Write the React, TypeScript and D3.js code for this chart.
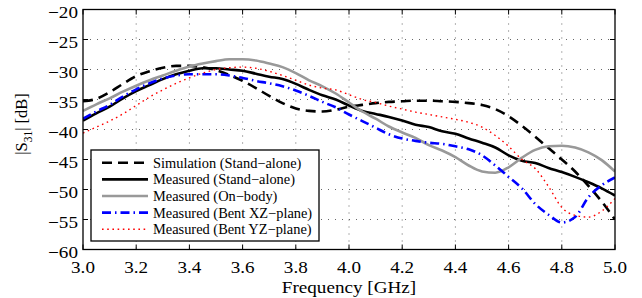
import React from 'react';
import * as d3 from 'd3';

// frequency grid (GHz), read every 0.05 GHz
const freqs = [
  3.0, 3.05, 3.1, 3.15, 3.2, 3.25, 3.3, 3.35, 3.4, 3.45, 3.5, 3.55, 3.6, 3.65, 3.7, 3.75, 3.8, 3.85, 3.9, 3.95,
  4.0, 4.05, 4.1, 4.15, 4.2, 4.25, 4.3, 4.35, 4.4, 4.45, 4.5, 4.55, 4.6, 4.65, 4.7, 4.75, 4.8, 4.85, 4.9, 4.95, 5.0,
];

const simStandAlone = [
  -35.3, -34.9, -33.8, -32.4, -31.1, -30.3, -29.7, -29.4, -29.4, -29.6, -30.1, -30.9, -31.9, -33.1, -34.4, -35.6, -36.5, -36.9, -37.0, -36.7,
  -36.2, -35.9, -35.6, -35.4, -35.3, -35.2, -35.2, -35.3, -35.4, -35.6, -35.9, -36.6, -37.8, -39.4, -41.2, -43.1, -45.0, -47.0, -49.4, -52.0, -55.0,
];

const measStandAlone = [
  -38.5, -37.3, -36.2, -34.8, -33.6, -32.6, -31.6, -30.8, -30.2, -29.8, -29.8, -30.0, -30.2, -30.7, -31.2, -31.6, -32.4, -33.4, -34.3, -35.0,
  -36.0, -36.9, -37.4, -37.9, -38.5, -39.2, -39.6, -40.3, -40.7, -41.5, -42.2, -43.0, -44.3, -45.2, -45.6, -46.4, -47.1, -47.9, -48.8, -49.8, -51.0,
];

const measOnBody = [
  -36.9, -35.8, -34.8, -33.7, -32.7, -31.8, -31.0, -30.2, -29.5, -29.0, -28.6, -28.3, -28.3, -28.5, -29.0, -29.6, -30.6, -31.8, -32.8, -34.0,
  -35.5, -37.0, -38.2, -39.5, -40.5, -41.4, -42.6, -43.5, -44.6, -46.0, -47.0, -47.2, -46.3, -44.7, -43.4, -42.8, -42.7, -43.0, -43.8, -45.1, -47.0,
];

const measBentXZ = [
  -38.2, -37.0, -35.9, -34.5, -33.3, -32.3, -31.5, -31.0, -30.8, -30.8, -30.8, -31.0, -31.4, -31.9, -32.3, -32.8, -33.5, -34.4, -35.4, -36.3,
  -37.5, -38.6, -39.7, -40.8, -41.5, -41.9, -42.2, -42.4, -42.8, -43.3, -44.3, -46.0, -47.9, -49.8, -52.4, -54.2, -55.5, -54.6, -51.3, -49.3, -48.0,
];

const measBentYZ = [
  -40.6, -39.6, -38.6, -37.4, -36.0, -34.6, -33.4, -32.3, -31.4, -30.6, -30.0, -29.7, -29.6, -29.8, -30.3, -31.0, -31.8, -32.6, -33.1, -33.4,
  -34.2, -35.0, -35.5, -36.1, -36.6, -37.1, -37.5, -37.9, -38.3, -38.8, -39.6, -41.0, -42.8, -45.0, -46.5, -49.5, -53.0, -54.3, -54.6, -53.6, -51.5,
];

const seriesNames = [
  'Simulation (Stand\u2212alone)',
  'Measured (Stand\u2212alone)',
  'Measured (On\u2212body)',
  'Measured (Bent XZ\u2212plane)',
  'Measured (Bent YZ\u2212plane)',
];

const xTicks = [3.0, 3.2, 3.4, 3.6, 3.8, 4.0, 4.2, 4.4, 4.6, 4.8, 5.0];
const yTicks = [-20, -25, -30, -35, -40, -45, -50, -55, -60];

const W = 642;
const H = 298;
const margin = { top: 9.5, right: 27, bottom: 48.5, left: 83 };
const STRETCH = 1.16;
const serif = { fontFamily: "'Liberation Serif'" };

const styles = [
  { stroke: '#000000', width: 2.6, dash: '10,6' },
  { stroke: '#000000', width: 2.6, dash: '' },
  { stroke: '#999999', width: 2.6, dash: '' },
  { stroke: '#0000ff', width: 2.6, dash: '9,4,1.5,4' },
  { stroke: '#ff0000', width: 1.4, dash: '1.6,3.6' },
];

export default function App() {
  const x = d3.scaleLinear().domain([3, 5]).range([margin.left, W - margin.right]);
  const y = d3.scaleLinear().domain([-60, -20]).range([H - margin.bottom, margin.top]);
  const fmtX = d3.format('.1f');
  const fmtY = d3.format('d');

  const allSeries = [simStandAlone, measStandAlone, measOnBody, measBentXZ, measBentYZ];
  const line = d3
    .line<number>()
    .x((_, i) => x(freqs[i]))
    .y((d) => y(d))
    .curve(d3.curveMonotoneX);

  const [x0, x1] = x.range();
  const [y0, y1] = y.range();

  // legend box
  const lg = { left: 91, top: 150, width: 228, height: 91, row: 16.65 };

  return (
    <svg width={W} height={H} style={{ position: 'absolute', left: 0, top: 0 }}>
      <rect x={0} y={0} width={W} height={H} fill="#fff" />
      <defs>
        <clipPath id="plot-clip">
          <rect x={x0} y={y1} width={x1 - x0} height={y0 - y1} />
        </clipPath>
      </defs>

      {/* grid */}
      {xTicks.slice(1, -1).map((t) => (
        <line key={'gx' + t} x1={x(t)} x2={x(t)} y1={y1} y2={y0} stroke="#555" strokeWidth={0.9} strokeDasharray="1,6" />
      ))}
      {yTicks.slice(1, -1).map((t) => (
        <line key={'gy' + t} x1={x0} x2={x1} y1={y(t)} y2={y(t)} stroke="#555" strokeWidth={0.9} strokeDasharray="1,6" />
      ))}

      {/* series */}
      {allSeries.map((s, i) => (
        <path
          key={'s' + i}
          d={line(s) || ''}
          fill="none"
          clipPath="url(#plot-clip)"
          strokeLinejoin="round"
          stroke={styles[i].stroke}
          strokeWidth={styles[i].width}
          strokeDasharray={styles[i].dash || undefined}
        />
      ))}

      {/* ticks inward on all sides */}
      {xTicks.map((t) => (
        <path key={'tx' + t} d={`M${x(t)},${y0}v-5M${x(t)},${y1}v5`} stroke="#000" strokeWidth={1} />
      ))}
      {yTicks.map((t) => (
        <path key={'ty' + t} d={`M${x0},${y(t)}h5M${x1},${y(t)}h-5`} stroke="#000" strokeWidth={1} />
      ))}
      <rect x={x0} y={y1} width={x1 - x0} height={y0 - y1} fill="none" stroke="#000" strokeWidth={1.3} />

      {/* tick labels */}
      {xTicks.map((t) => (
        <text
          key={'lx' + t}
          transform={`translate(${x(t)},${y0 + 23}) scale(${STRETCH},1)`}
          textAnchor="middle"
          fontSize={16.5}
          style={serif}
        >
          {fmtX(t)}
        </text>
      ))}
      {yTicks.map((t) => (
        <text
          key={'ly' + t}
          transform={`translate(${x0 - 5},${y(t) + 8.5}) scale(${STRETCH},1)`}
          textAnchor="end"
          fontSize={16.5}
          style={serif}
        >
          {fmtY(t)}
        </text>
      ))}

      {/* axis titles */}
      <text
        transform={`translate(${(x0 + x1) / 2},${H - 5.5}) scale(${STRETCH},1)`}
        textAnchor="middle"
        fontSize={16.5}
        style={serif}
      >
        Frequency [GHz]
      </text>
      <text transform="translate(27,124) rotate(-90)" textAnchor="middle" fontSize={16.5} style={serif}>
        |S<tspan fontSize={11.5} dy={5}>31</tspan>
        <tspan dy={-5}>| [dB]</tspan>
      </text>

      {/* legend */}
      <rect x={lg.left} y={lg.top} width={lg.width} height={lg.height} fill="#fff" stroke="#000" strokeWidth={1.3} />
      {seriesNames.map((name, i) => (
        <line
          key={'ll' + i}
          x1={lg.left + 11}
          x2={lg.left + 57}
          y1={lg.top + 12.7 + i * lg.row}
          y2={lg.top + 12.7 + i * lg.row}
          stroke={styles[i].stroke}
          strokeWidth={styles[i].width}
          strokeDasharray={styles[i].dash || undefined}
        />
      ))}
      {seriesNames.map((name, i) => (
        <text key={'lt' + i} x={lg.left + 62} y={lg.top + 17.7 + i * lg.row} fontSize={14.4} style={serif}>
          {name}
        </text>
      ))}
    </svg>
  );
}
